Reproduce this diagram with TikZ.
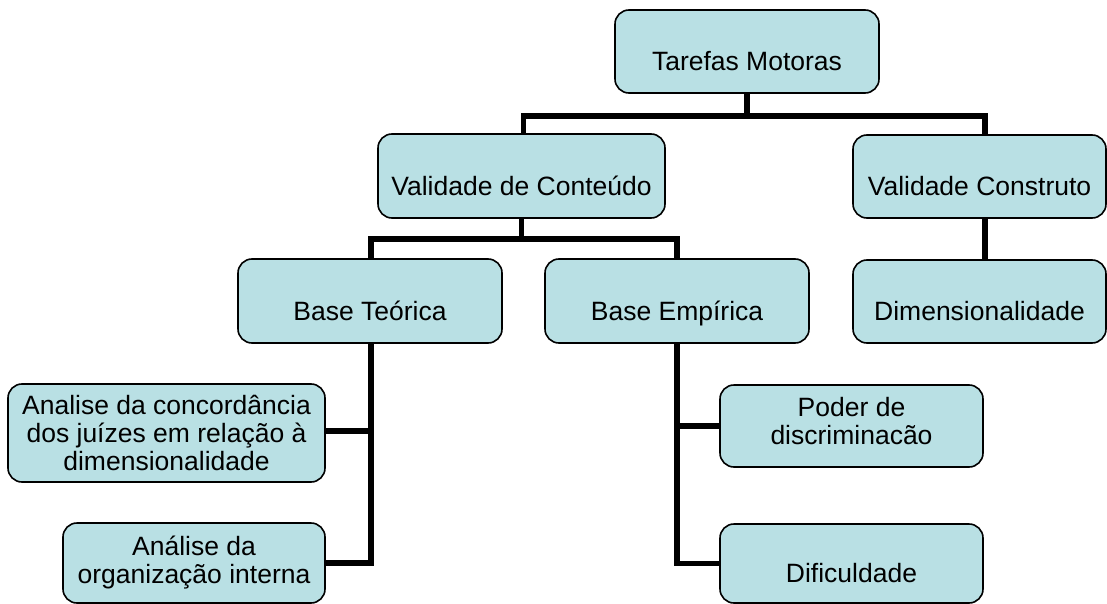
\documentclass[tikz,border=0pt]{standalone}
\usepackage{fontspec}
\setmainfont{Liberation Sans}
\usetikzlibrary{backgrounds}
\definecolor{boxfill}{HTML}{B9E0E4}
\begin{document}
\begin{tikzpicture}[x=1pt,y=-1pt,
  box/.style={draw=black, line width=1.6pt, fill=boxfill, rounded corners=14pt,
    inner sep=0pt, align=center, font=\fontsize{26.5}{28}\selectfont},
  one/.style={text height=38pt, text depth=0pt},
  conn/.style={line width=5.5pt, line join=miter}]
\useasboundingbox (0,0) rectangle (1107,604);
\node[box, one, minimum width=264pt, minimum height=83pt] (tm) at (747,51.5) {Tarefas Motoras};
\node[box, one, minimum width=287pt, minimum height=84pt] (vc) at (521.5,176) {Validade de Conteúdo};
\node[box, one, minimum width=253pt, minimum height=83pt] (vk) at (979.5,176.5) {Validade Construto};
\node[box, one, minimum width=264pt, minimum height=84pt] (bt) at (370,301) {Base Teórica};
\node[box, one, minimum width=264pt, minimum height=84pt] (be) at (677,301) {Base Empírica};
\node[box, one, minimum width=253pt, minimum height=83pt] (dim) at (979.5,301.5) {Dimensionalidade};
\node[box, minimum width=317pt, minimum height=98pt] (a1) at (166.5,433) {Analise da concordância\\dos juízes em relação à\\dimensionalidade};
\node[box, text depth=6pt, minimum width=262pt, minimum height=80pt] (a2) at (194,563) {Análise da\\organização interna};
\node[box, text depth=10pt, minimum width=263pt, minimum height=82pt] (pd) at (851.5,426) {Poder de\\discriminacão};
\node[box, one, minimum width=263pt, minimum height=79pt] (dif) at (851.5,563.5) {Dificuldade};
\begin{pgfonlayer}{background}
\draw[conn] (tm.south) -- ++(0,22) coordinate (j1);
\draw[conn] ([xshift=2pt]vc.north) |- (j1) -| ([xshift=5.5pt]vk.north);
\draw[conn] (vc.south) -- ++(0,20) coordinate (j2);
\draw[conn] ([xshift=1pt]bt.north) |- (j2) -| (be.north);
\draw[conn] ([xshift=5.5pt]vk.south) -- ([xshift=5.5pt]dim.north);
\coordinate (bts) at ([xshift=1pt]bt.south);
\draw[conn] (bts) |- (a2.east);
\draw[conn] ([yshift=2pt]a1.east) -- ([yshift=2pt]a1.east -| bts);
\draw[conn] (be.south) |- (dif.west);
\draw[conn] (pd.west) -- (pd.west -| be.south);
\end{pgfonlayer}
\end{tikzpicture}
\end{document}
